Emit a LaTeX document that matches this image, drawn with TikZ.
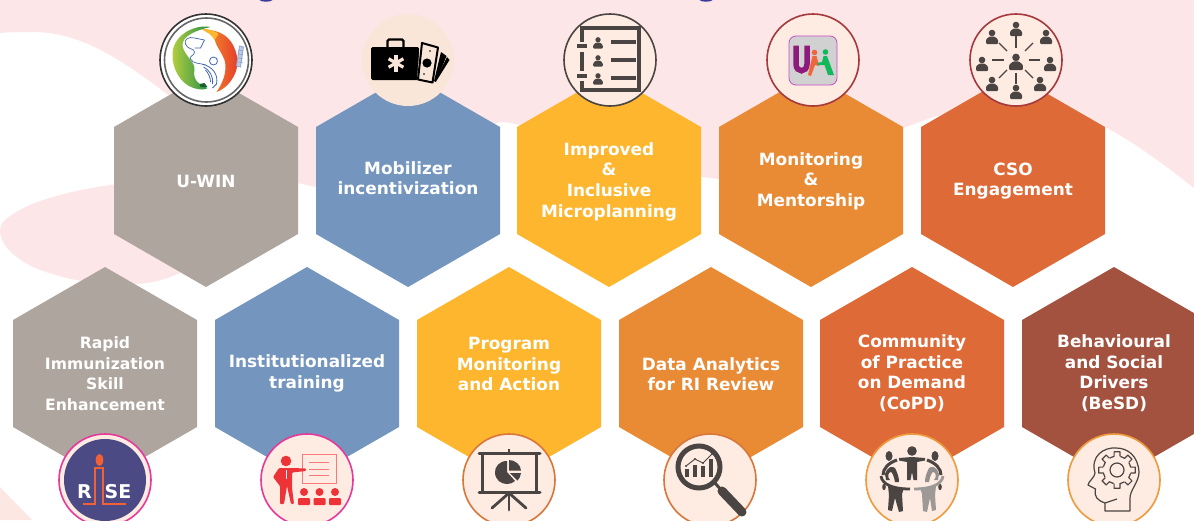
\documentclass[tikz,border=0pt]{standalone}
\usepackage{fontspec}
\setmainfont{DejaVu Sans}
\usetikzlibrary{calc}
\definecolor{bgpink}{HTML}{FDE6E8}
\definecolor{hgray}{HTML}{AFA59F}
\definecolor{hblue}{HTML}{7395BE}
\definecolor{hyellow}{HTML}{FDB62D}
\definecolor{horange}{HTML}{E98B35}
\definecolor{hdeep}{HTML}{DD6A37}
\definecolor{hbrown}{HTML}{A45240}
\definecolor{cream}{HTML}{FEEBE1}
\definecolor{beige}{HTML}{FAE6D8}
\definecolor{ink}{HTML}{4A4542}
\definecolor{ringred}{HTML}{A5393B}
\definecolor{ringpink}{HTML}{E6399B}
\definecolor{ringorange}{HTML}{D9763A}
\definecolor{ringamber}{HTML}{EE9A3D}
\definecolor{redicon}{HTML}{EE3338}
\definecolor{redpale}{HTML}{F77B7B}
\definecolor{logoblue}{HTML}{4468B0}
\definecolor{riseblue}{HTML}{4C4A85}
\definecolor{riseorange}{HTML}{F26135}
\definecolor{titleblue}{HTML}{3B3B9E}
\definecolor{paletri}{HTML}{FCE7E3}
\definecolor{lgreen}{HTML}{B7CE3F}
\definecolor{dgreen}{HTML}{1F8E48}
\definecolor{lorange}{HTML}{F59A2C}
\definecolor{dred}{HTML}{E5392A}
\definecolor{ujpurple}{HTML}{8E1B7B}
\definecolor{ujorange}{HTML}{F2643A}
\definecolor{ujgreen}{HTML}{12B85A}
\tikzset{
  hexlabel/.style={text=white,align=center,font=\bfseries\fontsize{16.9}{20.6}\selectfont,inner sep=0pt},
  narrowlabel/.style={font=\bfseries\fontsize{15.6}{20.6}\selectfont},
  iconcirc/.style={circle,minimum size=92pt,inner sep=0pt,line width=1.6pt,fill=cream},
}
\newcommand\hexa[7][]{% [extra] x y colour name labelY text
  \fill[#4] (#2-92,#3-53.5) -- (#2,#3-106.5) -- (#2+92,#3-53.5) -- (#2+92,#3+53.5) -- (#2,#3+106.5) -- (#2-92,#3+53.5) -- cycle;
  \node[hexlabel,#1] (#5) at (#2,#6) {#7};
}
\newcommand\myperson[4]{% x y scale colour
  \begin{scope}[shift={(#1,#2)},scale=#3]
    \fill[#4] (0,-4) circle (3.3);
    \fill[#4,rounded corners=1pt] (-6,7) -- (-6,2.5) -- (-2.5,-0.5) -- (2.5,-0.5) -- (6,2.5) -- (6,7) -- cycle;
  \end{scope}
}
\begin{document}
\begin{tikzpicture}[x=1pt,y=-1pt]
\useasboundingbox (0,0) rectangle (1194,520);
\fill[white] (0,0) rectangle (1194,520);
% background
\fill[bgpink] (0,0) -- (1194,0) -- (1194,188)
  .. controls (1165,165) and (1135,143) .. (1107,128)
  -- (1013,100) -- (933,117) -- (903,128) -- (719,179) -- (702,177) -- (520,125)
  .. controls (512,123) and (506,122) .. (500,122)
  -- (316,187) -- (298,183) -- (175,100)
  .. controls (125,62) and (83,32) .. (33,32)
  .. controls (20,32) and (8,32) .. (0,33) -- cycle;
\fill[bgpink] (130,183) .. controls (90,186) and (40,198) .. (20,210)
  .. controls (5,218) and (0,224) .. (0,230)
  .. controls (0,245) and (15,258) .. (33,267)
  .. controls (50,274) and (70,280) .. (95,283)
  .. controls (125,287) and (160,285) .. (185,270) -- cycle;
\fill[paletri] (0,487) -- (32,520) -- (0,520) -- cycle;
\fill[titleblue] (266,0) ellipse (6.5 and 1.6);
\fill[titleblue] (706,0) ellipse (6.5 and 1.6);
% hexagons
\hexa{206}{180.5}{hgray}{hA}{181.5}{U-WIN}
\hexa{408}{180.5}{hblue}{hB}{178}{Mobilizer\\incentivization}
\hexa{609}{180.5}{hyellow}{hC}{181.5}{Improved\\\&\\Inclusive\\Microplanning}
\hexa{811}{180.5}{horange}{hD}{181}{Monitoring\\\&\\Mentorship}
\hexa{1013}{180.5}{hdeep}{hE}{181}{CSO\\Engagement}
\hexa[narrowlabel]{105}{373.5}{hgray}{hF}{373.5}{Rapid\\Immunization\\Skill\\Enhancement}
\hexa{307}{373.5}{hblue}{hG}{373.5}{Institutionalized\\training}
\hexa{509}{373.5}{hyellow}{hH}{364}{Program\\Monitoring\\and Action}
\hexa{711}{373.5}{horange}{hI}{374}{Data Analytics\\for RI Review}
\hexa{912}{373.5}{hdeep}{hJ}{373}{Community\\of Practice\\on Demand\\(CoPD)}
\hexa{1114}{373.5}{hbrown}{hK}{373}{Behavioural\\and Social\\Drivers\\(BeSD)}
% ---------- U-WIN
\node[iconcirc,draw=black!80,fill=white] (c1) at (206,60) {};
\begin{scope}[shift={(206.5,60)}]
  \draw[black!60,line width=1.6pt] (0,0) circle (42);
  \shade[left color=lgreen,right color=dgreen]
    (4,-33) .. controls (-12,-36) and (-33,-25) .. (-34,-7)
    .. controls (-35,8) and (-26,24) .. (-13,28) .. controls (-7,30) and (-1,30) .. (1,28)
    .. controls (-8,24) and (-14,20) .. (-12,10) .. controls (-11,2) and (-22,-4) .. (-24,-14)
    .. controls (-25,-24) and (-10,-30) .. (4,-33) -- cycle;
  \shade[left color=lorange,right color=dred]
    (-5,-31) .. controls (8,-30) and (20,-28) .. (27,-14)
    .. controls (33,-2) and (32,10) .. (25,20) .. controls (20,27) and (14,31) .. (10,32)
    .. controls (17,22) and (21,10) .. (18,0) .. controls (14,-10) and (9,-14) .. (8,-22)
    .. controls (5,-26) and (0,-28) .. (-5,-31) -- cycle;
  \fill[hyellow] (-5,-31) .. controls (4,-31) and (9,-29) .. (12,-26) -- (8,-20) .. controls (5,-26) and (0,-28) .. (-5,-31) -- cycle;
  \draw[logoblue,line width=0.7pt,line join=round]
    (-2,-20) -- (-12,-22) .. controls (-18,-24) and (-23,-20) .. (-21,-16)
    .. controls (-19,-10) and (-12,-12) .. (-12,-8) .. controls (-12,-4) and (-18,-4) .. (-16,-1)
    .. controls (-14,4) and (-6,3) .. (-1,5);
  \draw[logoblue,line width=0.7pt] (-2,-20) -- (-6,-12) -- (-12,-12);
  \draw[logoblue,line width=0.8pt] (7,1) circle (4);
  \draw[logoblue,line width=0.8pt] (-4,4) .. controls (6,7) and (12,14) .. (10,24) -- (6,28);
  \draw[logoblue,line width=0.8pt] (-3,7) .. controls (3,10) and (7,16) .. (6,24);
  \draw[logoblue,line width=0.8pt] (-1,10) .. controls (2,13) and (4,18) .. (4,22);
  \fill[dgreen!70!black] (-7,24) -- (-2,23) -- (1,27) -- (-6,27) -- cycle;
  \fill[logoblue!35!white,draw=logoblue!60!white,line width=0.8pt] (33,-14) -- (37,-13) -- (34,7) -- (30,6) -- cycle;
  \foreach \q in {-10,-6,-2,2}{\draw[logoblue!70!white,line width=0.5pt] (32,\q) -- (36,\q+0.5);}
\end{scope}
% ---------- suitcase and cash
\node[iconcirc,fill=beige,line width=0pt] (c2) at (408,60) {};
\begin{scope}[shift={(408,60)}]
  \fill[black,rounded corners=1.5pt] (-37,-13) rectangle (11,20);
  \draw[black,line width=2.2pt,rounded corners=1.5pt] (-20.5,-13) -- (-20.5,-20.5) -- (-4.5,-20.5) -- (-4.5,-13);
  \begin{scope}[shift={(-12,3)}]
    \foreach \a in {0,60,120}{\draw[beige,line width=3.2pt,rotate=\a] (0,-8.5) -- (0,8.5);}
  \end{scope}
  \fill[black] (33,-8) -- (38.5,-4) -- (28,22) -- (26,21) -- cycle;
  \fill[black] (39,-3) -- (41.5,0) -- (29,20) -- (28,19) -- cycle;
  \fill[beige] (9,20.5) -- (12,-19) -- (31,-14) -- (25,24.5) -- cycle;
  \draw[black,line width=2pt,line join=round] (14,-17) -- (30,-12.5) -- (24.5,22.5) -- (10,19.5) -- cycle;
  \fill[black] (19,3) circle (4.6);
  \fill[black] (22,-9) circle (0.9);
  \fill[black] (16,14) circle (0.9);
\end{scope}
% ---------- list
\node[iconcirc,draw=ink] (c3) at (610,60) {};
\begin{scope}[shift={(610,60)}]
  \draw[ink,line width=4pt] (-28,-18) -- (-28,-32) -- (29,-32) -- (29,30) -- (-28,30) -- (-28,21);
  \draw[ink,line width=4pt] (-28,-8) -- (-28,11);
  \fill[ink] (-33,-16) rectangle (-23,-12);
  \fill[ink] (-33,13.5) rectangle (-23,18);
  \myperson{-12}{-17}{0.8}{ink}
  \myperson{-12}{1}{0.8}{ink}
  \myperson{-12}{19}{0.8}{ink}
  \foreach \q in {-18,0,18}{\fill[ink] (1,\q-2.2) rectangle (26,\q+2.2);}
\end{scope}
% ---------- U logo
\node[iconcirc,draw=ringred] (c4) at (813,60) {};
\begin{scope}[shift={(813,60)}]
  \draw[violet!60!magenta!70!white,fill=black!18,line width=0.8pt,rounded corners=7pt] (-24,-24) rectangle (24,25);
  \draw[ujpurple,line width=5.5pt] (-17,-14.5) -- (-17,4) .. controls (-17,13) and (-6,13) .. (-6,4) -- (-6,-14.5);
  \fill[ujorange] (1.5,-7.5) circle (2.8);
  \fill[ujorange] (-0.5,-4) -- (3.5,-4) -- (6,6) -- (2,5) -- (-2,16) -- (-5,15) -- cycle;
  \fill[ujgreen] (12.5,-8) circle (2.8);
  \fill[ujgreen] (10.5,-4) -- (14,-4) -- (21,15) -- (15,15) -- (11.5,5) -- (5,5) -- (4,3) -- (9,2) -- cycle;
\end{scope}
% ---------- network
\node[iconcirc,draw=ringred] (c5) at (1016,60) {};
\begin{scope}[shift={(1016,60)}]
  \myperson{0}{2}{1.15}{ink}
  \foreach \px/\py in {0/-31,30/-23,34/4,24/24,0/32,-24/24,-34/4,-24/-23}{\myperson{\px}{\py}{1.0}{ink}}
  \foreach \a in {0,90,180,270}{\draw[ink,line width=1.3pt,rotate=\a] (12.5,0) -- (24,0);}
  \draw[ink,line width=1.3pt] (-17,-17) -- (-9,-9);
  \draw[ink,line width=1.3pt] (17,-17) -- (9,-9);
  \draw[ink,line width=1.3pt] (-17,18) -- (-9,10);
  \draw[ink,line width=1.3pt] (17,18) -- (9,10);
\end{scope}
% ---------- RISE
\node[iconcirc,draw=ringpink,fill=cream] (c6) at (105,480) {};
\begin{scope}[shift={(105,480)}]
  \fill[riseblue] (0,0) circle (41);
  \fill[riseorange] (-5.5,-20) ellipse (3.8 and 6);
  \draw[riseorange,line width=2pt] (-22,23.5) -- (-10,23.5) -- (-10,-12) -- (-2,-12) -- (-2,23.5) -- (21,23.5);
  \node[text=white,font=\bfseries\fontsize{19}{19}\selectfont,inner sep=0pt] (riseR) at (-20.5,11.5) {R};
  \node[text=white,font=\bfseries\fontsize{19}{19}\selectfont,inner sep=0pt] (riseSE) at (13,11.5) {SE};
\end{scope}
% ---------- training
\node[iconcirc,draw=ringpink] (c7) at (307,480) {};
\begin{scope}[shift={(307,480)}]
  \draw[redpale,line width=1pt] (-5,-26) rectangle (29,3);
  \foreach \q in {-18,-11,-5}{\draw[redpale,line width=1pt] (2,\q) -- (22,\q);}
  \fill[redicon] (-21,-19) circle (5.3);
  \fill[redicon,rounded corners=1pt] (-28,-12) -- (-15,-12) -- (-1,-11.5) -- (-1,-9) -- (-15,-7.5) -- (-15,8) -- (-13,24) -- (-16,24) -- (-20,6) -- (-23,24) -- (-27,24) -- (-27,6) -- (-34,-3) -- cycle;
  \fill[cream] (-21.5,-10) rectangle (-20.5,-1);
  \foreach \q in {-3,12.5,28}{
    \fill[redicon] (\q,12) circle (4);
    \fill[redicon,rounded corners=1pt] (\q-6,18) rectangle (\q+6,25);}
\end{scope}
% ---------- presentation
\node[iconcirc,draw=ringorange] (c8) at (509,480) {};
\begin{scope}[shift={(509,480)}]
  \draw[ink,line width=3pt,line cap=round] (-30,-27) -- (31,-27);
  \draw[ink,line width=3pt,line cap=round] (-30,12) -- (31,12);
  \draw[ink,line width=3pt] (-27,-27) -- (-27,12);
  \draw[ink,line width=3pt] (27,-27) -- (27,12);
  \draw[ink,line width=2.5pt] (0,-31) -- (0,-27);
  \fill[ink] (-2,-8) -- (-2,-19) .. controls (-10,-19) and (-14,-13) .. (-14,-8)
    .. controls (-14,0) and (-8,4) .. (-2,4) .. controls (1,4) and (4,3) .. (6,1) -- cycle;
  \fill[ink] (0,-9.5) -- (0,-20) .. controls (6,-20) and (12,-15) .. (12,-9.5) -- cycle;
  \fill[ink] (1,-7) -- (12,-7) .. controls (12,-4) and (10,-1) .. (8.5,0.5) -- cycle;
  \draw[ink,line width=2.8pt,line cap=round] (0,13) -- (0,30);
  \draw[ink,line width=2.8pt,line cap=round] (0,13) -- (-17,28);
  \draw[ink,line width=2.8pt,line cap=round] (0,13) -- (17,28);
\end{scope}
% ---------- magnifier
\node[iconcirc,draw=ringorange] (c9) at (710,480) {};
\begin{scope}[shift={(710,480)}]
  \draw[ink,line width=5pt] (-11,-13) circle (21);
  \draw[ink,line width=3pt] (5,3) -- (12,11);
  \draw[ink,line width=9pt,line cap=round] (12,11) -- (32,32);
  \foreach \q/\h in {-23/8,-15/12,-7/11,1/18}{\fill[ink] (\q-2,-3) rectangle (\q+2,-3-\h);}
  \draw[ink,line width=0.9pt] (-24,-14) -- (-15,-21) -- (-7,-17) -- (2,-26);
  \foreach \px/\py in {-24/-14,-15/-21,-7/-17,2/-26}{\fill[ink] (\px,\py) circle (1.2);}
\end{scope}
% ---------- community
\node[iconcirc,draw=ringamber] (c10) at (912,480) {};
\begin{scope}[shift={(912,480)}]
  \fill[ink] (0,-29) circle (4.8);
  \fill[ink] (-13,-22) -- (0,-23) -- (13,-22) -- (13,-19.5) -- (5,-18) -- (5,0) -- (1.5,0) -- (0,-8) -- (-1.5,0) -- (-5,0) -- (-5,-18) -- (-13,-19.5) -- cycle;
  \fill[ink] (-23,-24) ellipse (3.5 and 5);
  \fill[ink] (23,-24) ellipse (3.5 and 5);
  \draw[ink,line width=3pt] (-15,-20) .. controls (-24,-17) and (-29,-11) .. (-29,-5);
  \draw[ink,line width=3pt] (15,-20) .. controls (24,-17) and (29,-11) .. (29,-5);
  \fill[ink] (-27,-6) .. controls (-24,-14) and (-20,-14) .. (-17,-12) .. controls (-14,-6) and (-13,-2) .. (-13,2) -- (-17,2) .. controls (-18,-4) and (-20,-8) .. (-21,-8) .. controls (-24,-8) and (-25,-3) .. (-22,0) -- (-26,0) -- cycle;
  \fill[ink!60!white] (27,-6) .. controls (24,-14) and (20,-14) .. (17,-12) .. controls (14,-6) and (13,-2) .. (13,2) -- (17,2) .. controls (18,-4) and (20,-8) .. (21,-8) .. controls (24,-8) and (25,-3) .. (22,0) -- (26,0) -- cycle;
  \fill[ink] (-28,7) ellipse (1.8 and 3.2);
  \fill[ink] (28,7) ellipse (1.8 and 3.2);
  \draw[ink,line width=2.8pt] (-31,-4) .. controls (-30,4) and (-20,9) .. (-2,9);
  \fill[ink] (-24,6) -- (-8,8) -- (-10,14) -- (-9,31) -- (-13,32) -- (-17,18) -- (-20,31) -- (-24,30) -- (-23,15) -- cycle;
  \draw[ink!55!white,line width=2.8pt] (31,-4) .. controls (30,4) and (20,9) .. (2,9);
  \fill[ink!55!white] (24,6) -- (8,8) -- (10,14) -- (11,31) -- (15,32) -- (18,18) -- (20,31) -- (24,30) -- (23,15) -- cycle;
\end{scope}
% ---------- head and gear
\node[iconcirc,draw=ringamber] (c11) at (1114,480) {};
\begin{scope}[shift={(1114,480)}]
  \draw[ink,line width=1.2pt,line join=round]
    (-9,31) -- (-9,23) .. controls (-17,20) and (-20,17) .. (-18.5,9) -- (-26,5)
    .. controls (-26,2) and (-19,-3) .. (-19,-7)
    .. controls (-24,-24) and (-10,-33) .. (2,-32)
    .. controls (14,-32) and (24,-24) .. (25,-8)
    .. controls (25,2) and (16,10) .. (16,18) -- (16,31) -- cycle;
  \draw[ink,line width=1.2pt] (-9,23) -- (3,19);
  \begin{scope}[shift={(3,-10)}]
    \draw[ink,line width=1.2pt] (0,0) circle (7);
    \foreach \a in {0,45,...,315}{
      \draw[ink,line width=1.2pt,line join=round]
        (\a-31:14) -- (\a-12:14) -- (\a-9:18.5) -- (\a+9:18.5) -- (\a+12:14);
    }
  \end{scope}
\end{scope}
\end{tikzpicture}
\end{document}
